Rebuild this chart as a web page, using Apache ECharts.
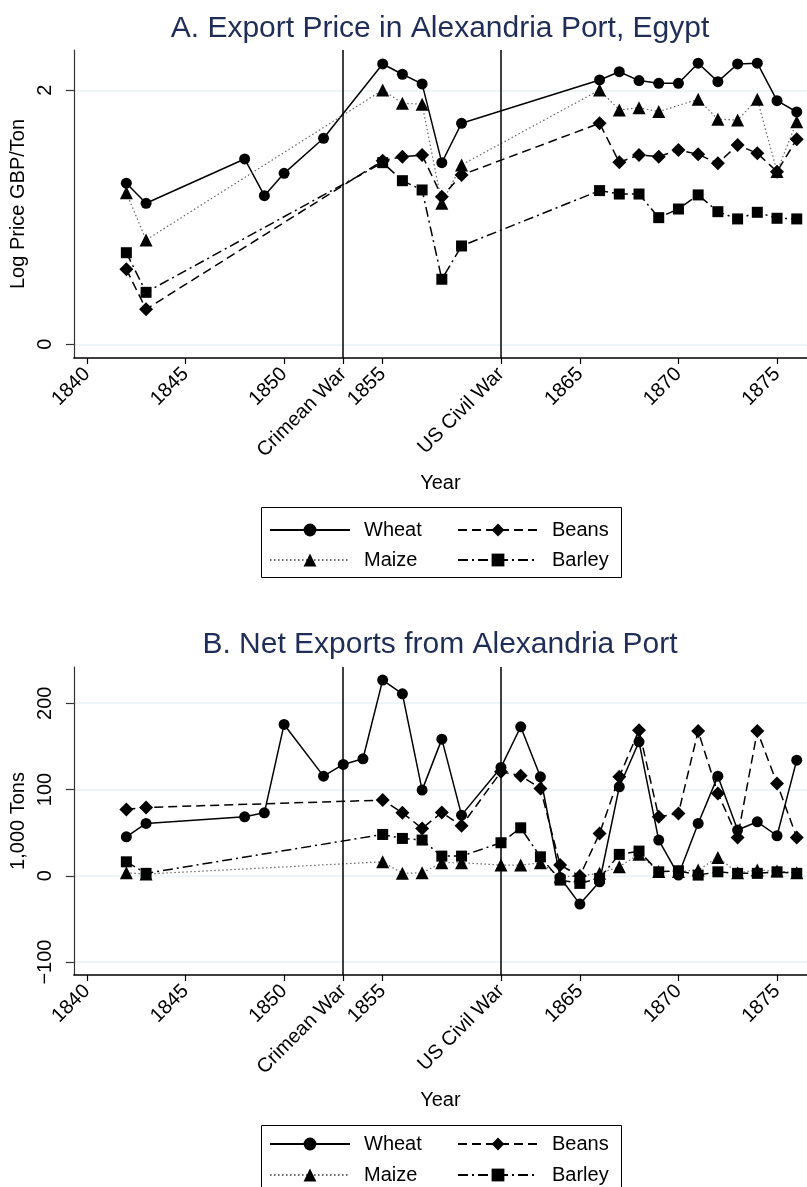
<!DOCTYPE html>
<html>
<head>
<meta charset="utf-8">
<script src="https://cdn.jsdelivr.net/npm/echarts@6/dist/echarts.min.js"></script>
<style>
html,body{margin:0;padding:0;background:#fff;}
#c{width:807px;height:1187px;}
</style>
</head>
<body>
<div id="c"></div>
<script>
// ---------- DATA ----------
const xTicks = [1840, 1845, 1850, 1853, 1855, 1861, 1865, 1870, 1875];
const xTickNames = {1853: 'Crimean War', 1861: 'US Civil War'};
const warYears = [1853, 1861];

const yearsA = [1842,1843,1848,1849,1850,1852,1855,1856,1857,1858,1859,1866,1867,1868,1869,1870,1871,1872,1873,1874,1875,1876];
const wheatA  = [1.268,1.110,1.459,1.170,1.346,1.622,2.207,2.126,2.050,1.430,1.740,2.081,2.146,2.076,2.055,2.055,2.213,2.068,2.207,2.213,1.918,1.829];
const maizeA  = [1.194,0.821,null,null,null,null,2.002,1.898,1.890,1.110,1.412,2.002,1.845,1.863,1.832,null,1.929,1.772,1.766,1.929,1.360,1.753];
const beansA  = [0.590,0.276,null,null,null,null,1.446,1.477,1.490,1.162,1.333,1.740,1.433,1.490,1.477,1.530,1.496,1.425,1.569,1.504,1.359,1.614];
const barleyA = [0.721,0.409,null,null,null,null,1.430,1.288,1.215,0.512,0.774,1.210,1.183,1.183,0.997,1.065,1.176,1.044,0.987,1.039,0.992,0.987];
const yTicksA = [0, 2];

const yearsB = [1842,1843,1848,1849,1850,1852,1853,1854,1855,1856,1857,1858,1859,1861,1862,1863,1864,1865,1866,1867,1868,1869,1870,1871,1872,1873,1874,1875,1876];
const wheatB  = [45.2,60.7,68.4,73.0,175.4,115.5,129.1,135.6,226.8,210.9,99.3,158.4,70.3,125.6,172.7,114.7,-2,-32.8,-6.9,103.1,155.3,41.4,0.8,60.7,115.5,53,62.6,46.4,134];
const maizeB  = [3.5,2,null,null,null,null,null,null,16.2,2.8,3.5,15.1,15.1,12.4,12.4,15,-1,0,2.8,10.5,25,5,5,6.6,21.3,3.5,6.6,5.5,3.5];
const beansB  = [76.9,79.2,null,null,null,null,null,null,87.7,73,54.9,73.4,57.9,120.5,115.9,101.3,12.4,-0.3,49.1,114.7,168.8,68.4,72.3,167.7,95.5,44.5,167.7,107.1,44.5];
const barleyB = [16.2,2.8,null,null,null,null,null,null,47.9,43.3,41.4,22.8,22.8,38.3,55.6,22,-5,-8.8,-3,24.8,28.6,4.6,5.8,0.8,4.6,2.8,2.8,4.6,2.8];
const yTicksB = [-100, 0, 100, 200];

// ---------- STYLE ----------
const FONT = 'Liberation Sans, Arial, Helvetica, sans-serif';
const styles = {
  Wheat:  {symbol: 'circle',   size: 11, line: {color: '#000', width: 1.5, type: 'solid'}},
  Maize:  {symbol: 'triangle', size: 13, line: {color: '#666', width: 1.2, type: [1.5, 2.5]}},
  Beans:  {symbol: 'diamond',  size: 14, line: {color: '#000', width: 1.5, type: [9, 5]}},
  Barley: {symbol: 'rect',     size: 11, line: {color: '#000', width: 1.5, type: [10, 4, 2, 4]}}
};

function pairs(years, vals) { return years.map((y, i) => [y, vals[i]]); }

function mkSeries(name, years, vals, gi, withWar) {
  const s = styles[name];
  const o = {
    name: name, type: 'line', xAxisIndex: gi, yAxisIndex: gi,
    data: pairs(years, vals), connectNulls: true,
    symbol: s.symbol, symbolSize: s.size, showSymbol: true,
    itemStyle: {color: '#000', borderWidth: 0},
    lineStyle: s.line,
    emphasis: {disabled: true}, silent: true
  };
  if (withWar) {
    o.markLine = {
      silent: true, symbol: 'none', label: {show: false},
      lineStyle: {color: '#000', width: 1.5, type: 'solid'},
      data: warYears.map(w => ({xAxis: w}))
    };
  }
  return o;
}

function xAxisDef(gi) {
  return {
    type: 'value', gridIndex: gi, min: 1839.34, max: 1876.52,
    name: 'Year', nameLocation: 'middle', nameGap: 115,
    nameTextStyle: {fontFamily: FONT, fontSize: 20, color: '#000'},
    axisLine: {show: true, onZero: false, lineStyle: {color: '#000', width: 1.5}},
    axisTick: {show: true, length: 6, customValues: xTicks, lineStyle: {color: '#000', width: 1.2}},
    axisLabel: {customValues: xTicks, rotate: 45, margin: 13, fontFamily: FONT, fontSize: 20, color: '#000',
      formatter: v => xTickNames[v] || String(v)},
    splitLine: {show: false}
  };
}

function yAxisDef(gi, min, max, ticks, name, fmt) {
  return {
    type: 'value', gridIndex: gi, min: min, max: max,
    name: name, nameLocation: 'middle', nameGap: 35,
    nameTextStyle: {fontFamily: FONT, fontSize: 20, color: '#000'},
    axisLine: {show: true, lineStyle: {color: '#333', width: 1.2}},
    axisTick: {show: true, length: 8, customValues: ticks, lineStyle: {color: '#333', width: 1.2}},
    axisLabel: {customValues: ticks, rotate: 90, margin: 18, fontFamily: FONT, fontSize: 20, color: '#000',
      formatter: fmt},
    splitLine: {show: true, lineStyle: {color: '#eaf1f4', width: 1.5}}
  };
}

function legendDef(names, left, top, gap) {
  return {
    data: names, orient: 'vertical', left: left, top: top, padding: 0,
    itemWidth: 80, itemHeight: 16, itemGap: gap, selectedMode: false,
    textStyle: {fontFamily: FONT, fontSize: 20, color: '#000', lineHeight: 20, padding: [0, 0, 0, 9]}
  };
}

const chart = echarts.init(document.getElementById('c'), null, {renderer: 'canvas'});
chart.setOption({
  animation: false,
  backgroundColor: '#fff',
  title: [
    {text: 'A. Export Price in Alexandria Port, Egypt', left: 440, top: 14, textAlign: 'center', padding: 0,
      textStyle: {fontFamily: FONT, fontSize: 30, fontWeight: 'normal', color: '#1f2d57'}},
    {text: 'B. Net Exports from Alexandria Port', left: 440, top: 630, textAlign: 'center', padding: 0,
      textStyle: {fontFamily: FONT, fontSize: 30, fontWeight: 'normal', color: '#1f2d57'}}
  ],
  grid: [
    {left: 71, top: 50, width: 736, height: 308},
    {left: 71, top: 667, width: 736, height: 308}
  ],
  xAxis: [xAxisDef(0), xAxisDef(1)],
  yAxis: [
    yAxisDef(0, -0.108, 2.317, yTicksA, 'Log Price GBP/Ton', v => String(v)),
    yAxisDef(1, -115, 242, yTicksB, '1,000 Tons', v => (v < 0 ? '\u2212' + Math.abs(v) : String(v)))
  ],
  legend: [
    legendDef(['Wheat', 'Maize'], 269, 520, 10),
    legendDef(['Beans', 'Barley'], 457, 520, 10),
    legendDef(['Wheat', 'Maize'], 269, 1134, 11),
    legendDef(['Beans', 'Barley'], 457, 1134, 11)
  ],
  graphic: [
    {type: 'rect', shape: {x: 261.5, y: 507.5, width: 360, height: 70}, style: {fill: 'none', stroke: '#000', lineWidth: 1}, silent: true},
    {type: 'rect', shape: {x: 261.5, y: 1125.5, width: 360, height: 70}, style: {fill: 'none', stroke: '#000', lineWidth: 1}, silent: true}
  ],
  series: [
    mkSeries('Wheat', yearsA, wheatA, 0, true),
    mkSeries('Maize', yearsA, maizeA, 0, false),
    mkSeries('Beans', yearsA, beansA, 0, false),
    mkSeries('Barley', yearsA, barleyA, 0, false),
    mkSeries('Wheat', yearsB, wheatB, 1, true),
    mkSeries('Maize', yearsB, maizeB, 1, false),
    mkSeries('Beans', yearsB, beansB, 1, false),
    mkSeries('Barley', yearsB, barleyB, 1, false)
  ]
});
</script>
</body>
</html>
